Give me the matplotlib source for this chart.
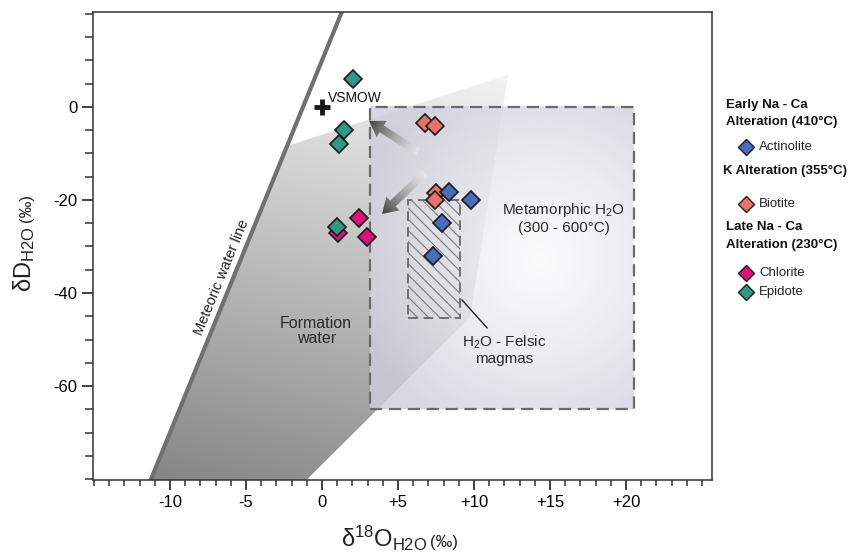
import numpy as np
import matplotlib
matplotlib.use("Agg")
import matplotlib.pyplot as plt
from matplotlib.patches import Polygon, Rectangle
from matplotlib.lines import Line2D
from matplotlib.ticker import MultipleLocator

plt.rcParams['font.family'] = ['Liberation Sans', 'DejaVu Sans']
plt.rcParams['mathtext.fontset'] = 'custom'
plt.rcParams['mathtext.rm'] = 'Liberation Sans'
plt.rcParams['mathtext.it'] = 'Liberation Sans:italic'
plt.rcParams['mathtext.bf'] = 'Liberation Sans:bold'
plt.rcParams['hatch.linewidth'] = 0.8

# ---------------- data ----------------
actinolite_d18O = [8.33, 9.78, 7.87, 7.33]
actinolite_dD = [-18.2, -20.0, -25.0, -32.0]
biotite_d18O = [6.8, 7.45, 7.5, 7.43]
biotite_dD = [-3.5, -4.2, -18.4, -20.0]
chlorite_d18O = [1.05, 2.43, 2.96]
chlorite_dD = [-27.1, -23.9, -28.0]
epidote_d18O = [2.04, 1.45, 1.12, 0.99]
epidote_dD = [6.0, -4.9, -8.0, -25.8]

x_ticks = [-10, -5, 0, 5, 10, 15, 20]
x_tick_labels = ['-10', '-5', '0', '+5', '+10', '+15', '+20']
y_ticks = [0, -20, -40, -60]
y_tick_labels = ['0', '-20', '-40', '-60']

mwl_slope = 8.0
mwl_intercept = 10.0
vsmow_xy = (0.0, 0.0)

formation_x = [-11.9, -2.3, 12.24, 9.74, -2.5]
formation_y = [-85.0, -8.4, 6.9, -45.2, -85.0]

metamorphic_box = (3.16, -65.0, 20.5, 0.0)   # x0, y0, x1, y1
felsic_box = (5.66, -45.4, 9.08, -20.0)

arrow_tails = [(6.32, -9.7), (6.78, -14.2)]
arrow_tips = [(3.09, -3.0), (3.95, -23.0)]

xlim = (-15.07, 25.66)
ylim = (-80.2, 20.4)

W, H = 848, 553
def fx(px): return px / W
def fy(py): return 1 - py / H

fig = plt.figure(figsize=(W / 100, H / 100), dpi=100)
ax = fig.add_axes([fx(93), fy(480), (712 - 93) / W, (480 - 12) / H])
ax.set_xlim(*xlim)
ax.set_ylim(*ylim)

T = ax.transData

# ---- formation water field (gradient) ----
fpoly = Polygon(np.column_stack([formation_x, formation_y]), closed=True,
                facecolor='none', edgecolor='none')
ax.add_patch(fpoly)
ny, nx = 300, 400
gx, gy = np.meshgrid(np.linspace(0, 1, nx), np.linspace(0, 1, ny))
t = np.clip(0.35 * gx + 0.9 * gy, 0, 1)
val = (130 + (242 - 130) * t) / 255.0
img = np.dstack([val, val, val])
im = ax.imshow(img, extent=[xlim[0], xlim[1], ylim[0], ylim[1]], origin='lower',
               aspect='auto', zorder=1, interpolation='bilinear')
im.set_clip_path(fpoly)

# ---- metamorphic box (radial gradient) ----
bx0, by0, bx1, by1 = metamorphic_box
ny, nx = 200, 200
gx, gy = np.meshgrid(np.linspace(bx0, bx1, nx), np.linspace(by0, by1, ny))
disp = T.transform(np.column_stack([gx.ravel(), gy.ravel()]))
cen = T.transform((14.3, -32.9))
r = np.hypot(disp[:, 0] - cen[0], disp[:, 1] - cen[1]).reshape(ny, nx)
rn = np.clip(r / 190.0, 0, 1)
edge = np.array([206, 206, 220]) / 255.0
center = np.array([250, 250, 251]) / 255.0
rgba = np.zeros((ny, nx, 4))
for k in range(3):
    rgba[..., k] = center[k] + (edge[k] - center[k]) * rn ** 1.2
rgba[..., 3] = 0.8
ax.imshow(rgba, extent=[bx0, bx1, by0, by1], origin='lower', aspect='auto',
          zorder=2, interpolation='bilinear')
ax.add_patch(Rectangle((bx0, by0), bx1 - bx0, by1 - by0, fill=False,
                       edgecolor='#6a6a6a', linewidth=1.6,
                       linestyle=(0, (5.5, 3.0)), zorder=3))

# ---- felsic magma box ----
fx0, fy0, fx1, fy1 = felsic_box
ax.add_patch(Rectangle((fx0, fy0), fx1 - fx0, fy1 - fy0, fill=False,
                       hatch='\\\\\\', edgecolor='#7a7a7a', linewidth=0, zorder=3))
ax.add_patch(Rectangle((fx0, fy0), fx1 - fx0, fy1 - fy0, fill=False,
                       edgecolor='#707070', linewidth=1.4,
                       linestyle=(0, (5.0, 3.0)), zorder=3))
ax.plot([9.21, 10.86], [-41.5, -47.5], color='#222222', lw=1.0, zorder=3)

# ---- meteoric water line ----
mx = np.array([-13.0, 2.5])
ax.plot(mx, mwl_slope * mx + mwl_intercept, color='#707070', lw=3.0,
        solid_capstyle='butt', zorder=3)
p1 = T.transform((0, mwl_intercept))
p2 = T.transform((1, mwl_slope + mwl_intercept))
ang = np.degrees(np.arctan2(p2[1] - p1[1], p2[0] - p1[0]))
ax.text(-6.58, -36.6, 'Meteoric water line', rotation=ang, rotation_mode='anchor',
        ha='center', va='center', fontsize=10.5, color='#222222', zorder=6)

# ---- gradient arrows ----
def gradient_arrow(tail, tip, shaft_w=8, head_w=19, head_l=15):
    q0 = T.transform(tail)
    q1 = T.transform(tip)
    d = q1 - q0
    L = np.hypot(*d)
    u = d / L
    n = np.array([-u[1], u[0]])
    base = q1 - u * head_l
    pts = np.array([q0 + n * shaft_w / 2, base + n * shaft_w / 2, base + n * head_w / 2,
                    q1, base - n * head_w / 2, base - n * shaft_w / 2, q0 - n * shaft_w / 2])
    pd = T.inverted().transform(pts)
    poly = Polygon(pd, closed=True, facecolor='none', edgecolor='none')
    ax.add_patch(poly)
    x0, x1 = pd[:, 0].min(), pd[:, 0].max()
    y0, y1 = pd[:, 1].min(), pd[:, 1].max()
    nn = 120
    gx, gy = np.meshgrid(np.linspace(x0, x1, nn), np.linspace(y0, y1, nn))
    dd = T.transform(np.column_stack([gx.ravel(), gy.ravel()]))
    tt = np.clip(((dd - q0) @ u) / L, 0, 1).reshape(nn, nn)
    v = (252 - 190 * tt ** 0.8) / 255.0
    rgba = np.dstack([v, v, v, 0.4 + 0.6 * tt])
    imA = ax.imshow(rgba, extent=[x0, x1, y0, y1], origin='lower', aspect='auto',
                    zorder=4, interpolation='bilinear')
    imA.set_clip_path(poly)

for tl, tp in zip(arrow_tails, arrow_tips):
    gradient_arrow(tl, tp)

# ---- data points ----
ms = 9.5
kw = dict(linestyle='none', marker='D', markersize=ms, markeredgecolor='#1a1a1a',
          markeredgewidth=1.2, zorder=5)
c_act, c_bio, c_chl, c_epi = '#4a6cbd', '#e8726a', '#d9137a', '#2f9984'
ax.plot(chlorite_d18O, chlorite_dD, markerfacecolor=c_chl, **kw)
ax.plot(epidote_d18O, epidote_dD, markerfacecolor=c_epi, **kw)
ax.plot(biotite_d18O, biotite_dD, markerfacecolor=c_bio, **kw)
ax.plot(actinolite_d18O, actinolite_dD, markerfacecolor=c_act, **kw)

ax.plot([vsmow_xy[0]], [vsmow_xy[1]], marker='+', markersize=12, markeredgewidth=3.5,
        color='#1a1a1a', linestyle='none', zorder=5)
ax.text(0.39, 1.9, 'VSMOW', fontsize=10, ha='left', va='center', color='#111111', zorder=6)

# ---- annotations ----
ax.text(-0.39, -48.2, 'Formation\nwater', ha='center', va='center', fontsize=11.5,
        color='#2a2a2a', linespacing=1.0, zorder=6)
ax.text(15.92, -23.9, 'Metamorphic H$_2$O\n(300 - 600°C)', ha='center', va='center',
        fontsize=11, color='#2a2a2a', linespacing=1.15, zorder=6)
ax.text(11.97, -52.3, 'H$_2$O - Felsic\nmagmas', ha='center', va='center',
        fontsize=11, color='#2a2a2a', linespacing=1.1, zorder=6)

# ---- axes styling ----
for s in ax.spines.values():
    s.set_linewidth(1.1)
    s.set_color('#333333')
    s.set_zorder(7)
ax.set_xticks(x_ticks)
ax.set_xticklabels(x_tick_labels)
ax.set_yticks(y_ticks)
ax.set_yticklabels(y_tick_labels)
ax.xaxis.set_minor_locator(MultipleLocator(1))
ax.yaxis.set_minor_locator(MultipleLocator(5))
ax.tick_params(axis='x', which='major', length=7, width=1.3, direction='out',
               labelsize=12, pad=4, color='#333333')
ax.tick_params(axis='x', which='minor', length=4, width=1.1, direction='out', color='#333333')
ax.tick_params(axis='y', which='major', length=8, width=1.3, direction='out',
               labelsize=12, pad=3, color='#333333')
ax.tick_params(axis='y', which='minor', length=6, width=1.1, direction='out', color='#333333')
ax.set_xlim(*xlim)
ax.set_ylim(*ylim)

# ---- axis labels (composite sizes) ----
fig.text(fx(427), fy(547), 'δ$^{18}$O$_{\\mathrm{H2O}}$', fontsize=17, ha='right',
         va='baseline', color='#222222')
fig.text(fx(430), fy(547), '(‰)', fontsize=12, ha='left', va='baseline', color='#222222')
fig.text(fx(31), fy(226), 'δD$_{\\mathrm{H2O}}$', fontsize=17, ha='right', va='baseline',
         rotation=90, rotation_mode='anchor', color='#222222')
fig.text(fx(31), fy(222), '(‰)', fontsize=12, ha='left', va='baseline',
         rotation=90, rotation_mode='anchor', color='#222222')

# ---- legend ----
def head(px, py, s):
    fig.text(fx(px), fy(py), s, fontsize=9.5, fontweight='bold', ha='left',
             va='center', color='#111111')

def item(py, color, s):
    fig.add_artist(Line2D([fx(746)], [fy(py)], marker='D', markersize=8.5,
                          markerfacecolor=color, markeredgecolor='#1a1a1a',
                          markeredgewidth=1.0, transform=fig.transFigure))
    fig.text(fx(759), fy(py), s, fontsize=9.5, ha='left', va='center', color='#222222')

head(726, 105, 'Early Na - Ca')
head(726, 122, 'Alteration (410°C)')
item(147, c_act, 'Actinolite')
head(723, 171, 'K Alteration (355°C)')
item(204, c_bio, 'Biotite')
head(726, 227, 'Late Na - Ca')
head(726, 245, 'Alteration (230°C)')
item(273, c_chl, 'Chlorite')
item(292, c_epi, 'Epidote')

fig.savefig('out.png', dpi=100)
